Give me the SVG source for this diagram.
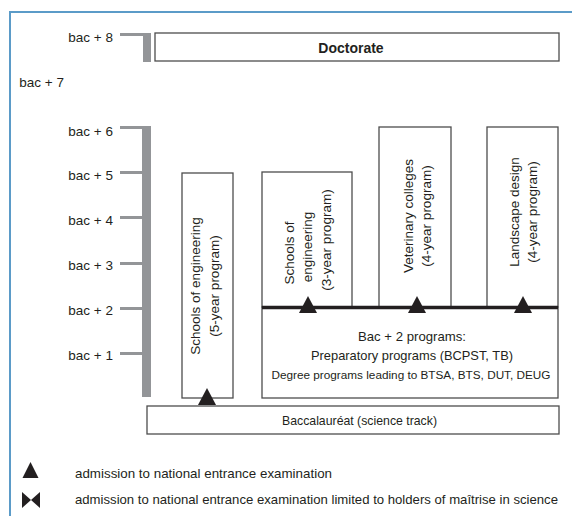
<svg xmlns="http://www.w3.org/2000/svg" width="572" height="516" viewBox="0 0 572 516">
<style>
  .box { fill: #fff; stroke: #4d4d4d; stroke-width: 1.3; }
  .t { font-family: "Liberation Sans", Arial, sans-serif; font-size: 13.5px; fill: #231f20; }
  .m { text-anchor: middle; }
  .e { text-anchor: end; }
  .b { font-weight: bold; font-size: 14px; }
  .lg { font-size: 13.2px; }
  .axis { fill: #939598; }
  .tri { fill: #231f20; }
</style>
<defs>
  <path id="tri" d="M0,0 L9,17 L-9,17 Z"/>
</defs>

<!-- frame -->
<g id="frame">
  <line x1="9" y1="12" x2="572" y2="12" stroke="#5b9bc8" stroke-width="2"/>
  <line x1="10" y1="11" x2="10" y2="516" stroke="#5b9bc8" stroke-width="2"/>
</g>

<!-- axis -->
<g id="axis">
  <rect class="axis" x="120" y="33" width="23" height="3"/>
  <rect class="axis" x="143" y="33" width="8" height="29"/>
  <rect class="axis" x="142" y="126" width="9" height="271"/>
  <rect class="axis" x="120" y="126" width="22" height="3"/>
  <rect class="axis" x="120" y="171" width="22" height="3"/>
  <rect class="axis" x="120" y="216" width="22" height="3"/>
  <rect class="axis" x="120" y="262" width="22" height="3"/>
  <rect class="axis" x="120" y="307" width="22" height="3"/>
  <rect class="axis" x="120" y="352" width="22" height="3"/>
  <text class="t e" x="113" y="42">bac + 8</text>
  <text class="t e" x="64" y="87">bac + 7</text>
  <text class="t e" x="113" y="136">bac + 6</text>
  <text class="t e" x="113" y="180">bac + 5</text>
  <text class="t e" x="113" y="225">bac + 4</text>
  <text class="t e" x="113" y="270">bac + 3</text>
  <text class="t e" x="113" y="315">bac + 2</text>
  <text class="t e" x="113" y="360">bac + 1</text>
</g>

<g id="doctorate">
  <rect class="box" x="155" y="33" width="404" height="28"/>
  <text class="t b m" x="351" y="53">Doctorate</text>
</g>

<g id="eng5">
  <rect class="box" x="182" y="173" width="51" height="225"/>
  <text class="t m" transform="translate(200,286) rotate(-90)">Schools of engineering</text>
  <text class="t m" transform="translate(219,286) rotate(-90)">(5-year program)</text>
</g>

<g id="eng3">
  <rect class="box" x="262" y="172" width="90" height="135"/>
  <text class="t m" transform="translate(294,253) rotate(-90)">Schools of</text>
  <text class="t m" transform="translate(312,247) rotate(-90)">engineering</text>
  <text class="t m" transform="translate(331,240) rotate(-90)">(3-year program)</text>
</g>

<g id="vet">
  <rect class="box" x="379" y="127" width="72" height="180"/>
  <text class="t m" transform="translate(413,216) rotate(-90)">Veterinary colleges</text>
  <text class="t m" transform="translate(431,216) rotate(-90)">(4-year program)</text>
</g>

<g id="landscape">
  <rect class="box" x="487" y="127" width="71" height="180"/>
  <text class="t m" transform="translate(519,212) rotate(-90)">Landscape design</text>
  <text class="t m" transform="translate(537,212) rotate(-90)">(4-year program)</text>
</g>

<g id="bac2">
  <rect class="box" x="262" y="307" width="296" height="91"/>
  <text class="t m" x="412" y="341" textLength="108" lengthAdjust="spacingAndGlyphs">Bac + 2 programs:</text>
  <text class="t m" x="412" y="360" style="font-size:12.8px" textLength="202" lengthAdjust="spacingAndGlyphs">Preparatory programs (BCPST, TB)</text>
  <text class="t m" x="411" y="379" style="font-size:11.7px" textLength="279" lengthAdjust="spacingAndGlyphs">Degree programs leading to BTSA, BTS, DUT, DEUG</text>
</g>

<g id="bacc">
  <rect class="box" x="147" y="406" width="412" height="28"/>
  <text class="t m" x="359.5" y="425" style="font-size:12.4px" textLength="155" lengthAdjust="spacingAndGlyphs">Baccalauréat (science track)</text>
</g>

<g id="connectors">
  <line x1="262" y1="307.5" x2="558" y2="307.5" stroke="#231f20" stroke-width="3.5"/>
  <use href="#tri" class="tri" x="308" y="296"/>
  <use href="#tri" class="tri" x="417" y="296"/>
  <use href="#tri" class="tri" x="523" y="296"/>
  <use href="#tri" class="tri" x="207" y="388"/>
</g>

<g id="legend">
  <path class="tri" d="M30.5,462 L38.5,478 L22.5,478 Z"/>
  <path class="tri" d="M22,492 L31,500 L22,508 Z M40,492 L31,500 L40,508 Z"/>
  <text class="t lg" x="75" y="478" textLength="257" lengthAdjust="spacingAndGlyphs">admission to national entrance examination</text>
  <text class="t lg" x="75" y="504" textLength="483" lengthAdjust="spacingAndGlyphs">admission to national entrance examination limited to holders of maîtrise in science</text>
</g>
</svg>
